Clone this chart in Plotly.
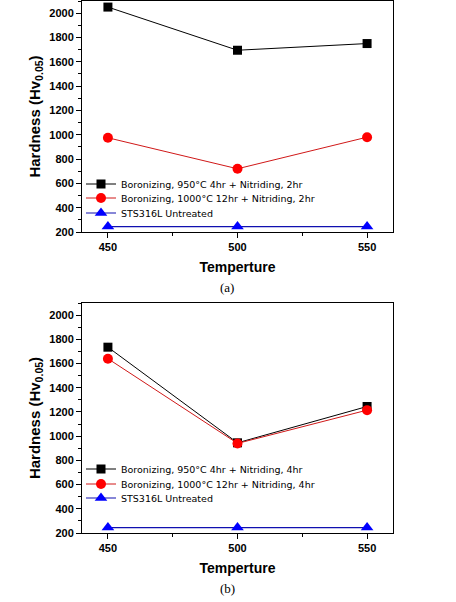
import plotly.graph_objects as go
from plotly.subplots import make_subplots

temps = [450, 500, 550]

# (a) nitriding 2hr
a_boron950 = [2050, 1695, 1750]
a_boron1000 = [975, 720, 980]
a_untreated = [245, 245, 245]

# (b) nitriding 4hr
b_boron950 = [1735, 945, 1245]
b_boron1000 = [1640, 940, 1215]
b_untreated = [245, 245, 245]

names_a = ["Boronizing, 950°C 4hr + Nitriding, 2hr",
           "Boronizing, 1000°C 12hr + Nitriding, 2hr",
           "STS316L Untreated"]
names_b = ["Boronizing, 950°C 4hr + Nitriding, 4hr",
           "Boronizing, 1000°C 12hr + Nitriding, 4hr",
           "STS316L Untreated"]

W, H = 456, 602
ml, mr, mt, mb = 82, 63, 1, 69
ph = H - mt - mb
pw = W - ml - mr

def py(pix):
    return (H - mb - pix) / ph

def px(pix):
    return (pix - ml) / pw

fig = make_subplots(rows=2, cols=1)

styles = [
    dict(line=dict(color="black", width=1), marker=dict(symbol="square", size=9, color="black")),
    dict(line=dict(color="#d01818", width=1), marker=dict(symbol="circle", size=10, color="#ff0000")),
    dict(line=dict(color="#1010b0", width=1.2), marker=dict(symbol="triangle-up", size=11, color="#0000ff")),
]

for i, (vals, nm) in enumerate(zip([a_boron950, a_boron1000, a_untreated], names_a)):
    fig.add_trace(go.Scatter(x=temps, y=vals, name=nm, mode="lines+markers",
                             legend="legend" if i == 0 else f"legend{i+1}", **styles[i]), row=1, col=1)
for i, (vals, nm) in enumerate(zip([b_boron950, b_boron1000, b_untreated], names_b)):
    fig.add_trace(go.Scatter(x=temps, y=vals, name=nm, mode="lines+markers",
                             legend=f"legend{i+4}", **styles[i]), row=2, col=1)

xax = dict(range=[440, 560], tickvals=temps, ticks="outside", ticklen=5, tickwidth=1,
           minor=dict(dtick=25, tick0=450, ticks="outside", ticklen=3, tickcolor="black"),
           showline=True, linecolor="black", linewidth=1, mirror=True, showgrid=False,
           zeroline=False, tickcolor="black", automargin=False,
           tickfont=dict(family="Arial, Liberation Sans", size=11, color="black", weight="bold"),
           title=dict(text="Temperture", standoff=9,
                      font=dict(family="Arial, Liberation Sans", size=14, color="black", weight="bold")))
yax = dict(range=[200, 2100], tick0=200, dtick=200, ticks="outside", ticklen=5, tickwidth=1,
           minor=dict(dtick=100, ticks="outside", ticklen=3, tickcolor="black"),
           showline=True, linecolor="black", linewidth=1, mirror=True, showgrid=False,
           zeroline=False, tickcolor="black", automargin=False,
           tickfont=dict(family="Arial, Liberation Sans", size=11, color="black", weight="bold"),
           title=dict(text="Hardness (Hv<sub>0.05</sub>)", standoff=5,
                      font=dict(family="Arial, Liberation Sans", size=15, color="black", weight="bold")))

fig.update_xaxes(**xax)
fig.update_yaxes(**yax)
fig.update_layout(
    xaxis=dict(domain=[0, 1]), yaxis=dict(domain=[py(232), 1.0]),
    xaxis2=dict(domain=[0, 1]), yaxis2=dict(domain=[0, py(303)]),
)

legfont = dict(family="DejaVu Sans", size=9.5, color="black")
leg_y = [184, 198, 213, 469, 484, 498]
legs = {}
for k, yy in enumerate(leg_y):
    key = "legend" if k == 0 else f"legend{k+1}"
    legs[key] = dict(x=px(81), y=py(yy), xanchor="left", yanchor="middle",
                     bgcolor="rgba(0,0,0,0)", font=legfont, itemwidth=30)

fig.update_layout(
    width=W, height=H, margin=dict(l=ml, r=mr, t=mt, b=mb, autoexpand=False),
    paper_bgcolor="white", plot_bgcolor="white",
    showlegend=True,
    annotations=[
        dict(text="(a)", x=px(227), y=py(287), xref="paper", yref="paper", showarrow=False,
             xanchor="center", yanchor="middle",
             font=dict(family="Liberation Serif", size=13, color="black")),
        dict(text="(b)", x=px(227), y=py(589), xref="paper", yref="paper", showarrow=False,
             xanchor="center", yanchor="middle",
             font=dict(family="Liberation Serif", size=13, color="black")),
    ],
    **legs,
)

fig.write_html("out.html", config={"displayModeBar": False},
               post_script="document.body.style.margin='0px';")
